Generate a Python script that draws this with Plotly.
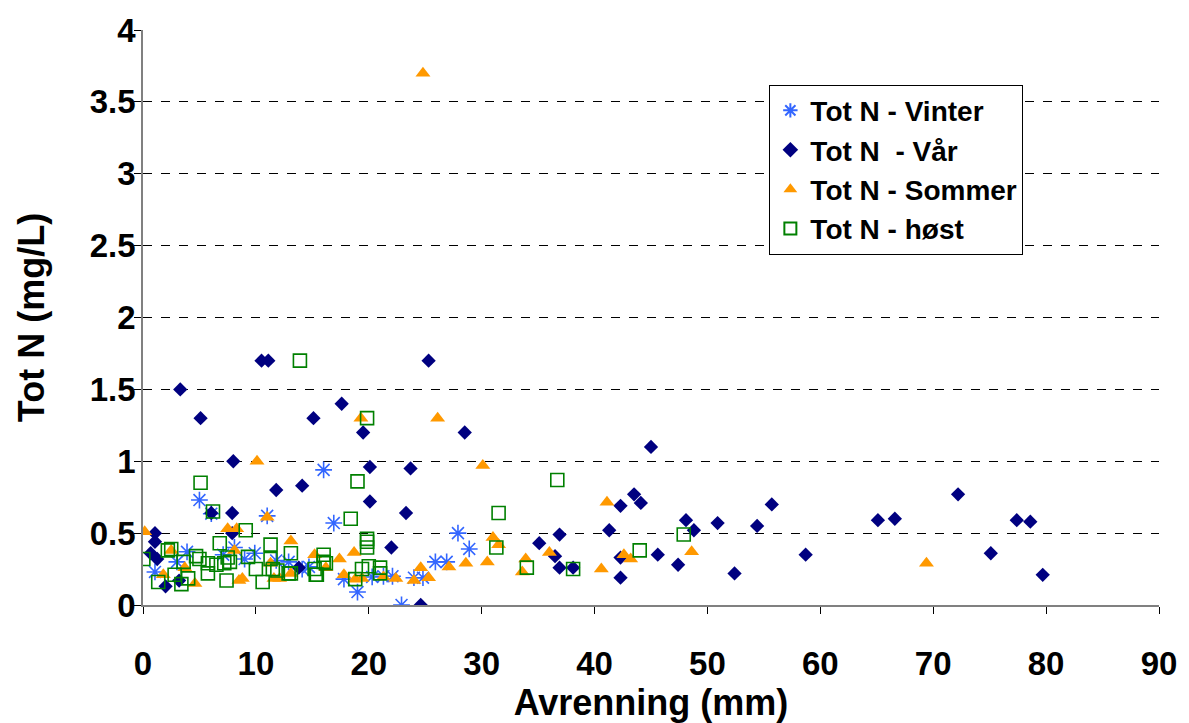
import plotly.graph_objects as go

# Tot N (mg/L) versus avrenning (mm), split by season
vinter_x = [5.0, 6.05, 11.0, 16.0, 3.9, 3.0, 1.06, 8.1, 9.9, 9.0, 11.8, 12.9, 14.1, 7.1, 14.7,
            16.9, 27.9, 28.9, 19.0, 22.9, 25.9, 26.9, 17.8, 20.3, 21.3, 22.1, 24.0, 24.8]
vinter_y = [0.73, 0.635, 0.62, 0.94, 0.37, 0.30, 0.23, 0.40, 0.36, 0.32, 0.31, 0.30, 0.25, 0.35, 0.265,
            0.57, 0.50, 0.39, 0.09, 0.0, 0.30, 0.30, 0.18, 0.195, 0.20, 0.20, 0.19, 0.19]

vaar_x = [3.3, 10.5, 11.1, 25.3, 5.1, 15.1, 17.6, 19.5, 28.5, 8.0, 20.1, 23.7, 11.8, 14.1, 45.0,
          20.1, 23.3, 22.0, 24.6, 6.05, 7.9, 1.06, 1.06, 0.68, 1.26, 2.0, 3.2, 7.9, 13.8,
          43.5, 42.3, 44.1, 35.1, 36.9, 36.5, 36.9, 38.1, 41.3, 42.3, 42.3, 45.6, 47.4, 48.1,
          48.8, 50.9, 52.4, 54.4, 55.7, 58.7, 65.1, 66.6, 72.2, 75.1, 77.4, 78.6, 79.7]
vaar_y = [1.5, 1.7, 1.7, 1.7, 1.3, 1.3, 1.4, 1.2, 1.2, 1.0, 0.96, 0.95, 0.80, 0.83, 1.1,
          0.72, 0.64, 0.40, 0.0, 0.64, 0.64, 0.50, 0.44, 0.36, 0.32, 0.13, 0.17, 0.50, 0.26,
          0.77, 0.69, 0.71, 0.43, 0.49, 0.34, 0.26, 0.26, 0.52, 0.33, 0.19, 0.35, 0.28, 0.59,
          0.52, 0.57, 0.22, 0.55, 0.70, 0.35, 0.59, 0.60, 0.77, 0.36, 0.59, 0.58, 0.21]

sommer_x = [24.8, 10.1, 19.3, 26.1, 30.1, 0.15, 7.5, 8.3, 8.1, 2.5, 1.8, 3.7, 4.6, 8.5, 8.8,
            11.0, 13.1, 11.3, 12.1, 13.1, 15.2, 16.2, 11.6, 17.4, 17.8, 18.7, 18.8, 19.4,
            21.3, 22.4, 24.0, 24.6, 25.3, 27.1, 28.6, 30.5, 31.0, 31.5, 33.9, 33.6, 36.0,
            41.1, 40.6, 42.6, 43.2, 48.6, 69.4]
sommer_y = [3.7, 1.0, 1.3, 1.3, 0.97, 0.51, 0.53, 0.53, 0.38, 0.38, 0.21, 0.26, 0.15, 0.17, 0.185,
            0.61, 0.445, 0.29, 0.185, 0.22, 0.35, 0.26, 0.185, 0.32, 0.21, 0.365, 0.18, 0.185,
            0.195, 0.185, 0.17, 0.26, 0.19, 0.265, 0.29, 0.30, 0.47, 0.42, 0.32, 0.23, 0.365,
            0.715, 0.25, 0.35, 0.32, 0.37, 0.29]

hoest_x = [13.9, 19.85, 5.1, 19.0, 36.7, 6.2, 9.1, 6.8, 11.3, 13.1, 0.03, 2.2, 2.5, 4.7, 3.6,
           5.0, 5.75, 6.5, 7.2, 7.7, 7.5, 10.0, 10.6, 11.5, 11.9, 13.1, 15.2, 15.3, 16.0, 16.0,
           1.35, 3.4, 5.75, 7.4, 2.8, 4.0, 9.3, 11.3, 12.9, 15.4, 16.2, 18.4, 19.85, 19.85,
           19.85, 19.4, 20.0, 21.0, 21.0, 18.8, 31.5, 31.3, 34.0, 38.1, 44.0, 47.9]
hoest_y = [1.7, 1.3, 0.85, 0.86, 0.87, 0.65, 0.52, 0.43, 0.42, 0.36, 0.32, 0.38, 0.39, 0.34, 0.30,
           0.32, 0.29, 0.28, 0.29, 0.30, 0.33, 0.25, 0.16, 0.25, 0.24, 0.22, 0.25, 0.21, 0.35, 0.30,
           0.16, 0.145, 0.22, 0.17, 0.21, 0.185, 0.335, 0.32, 0.22, 0.21, 0.29, 0.60, 0.46, 0.44,
           0.40, 0.25, 0.27, 0.26, 0.22, 0.18, 0.64, 0.40, 0.26, 0.25, 0.38, 0.49]

fig = go.Figure()
fig.add_trace(go.Scatter(
    x=vinter_x, y=vinter_y, mode="markers", name="Tot N - Vinter", legendgroup="a",
    marker=dict(symbol="asterisk-open", size=14, color="#3366FF",
                line=dict(color="#3366FF", width=1.6))))
fig.add_trace(go.Scatter(
    x=vaar_x, y=vaar_y, mode="markers", name="Tot N  - Vår", legendgroup="b",
    marker=dict(symbol="diamond", size=11, color="#000080")))
fig.add_trace(go.Scatter(
    x=sommer_x, y=sommer_y, mode="markers", name="Tot N - Sommer", legendgroup="c",
    marker=dict(symbol="triangle-up", size=13, color="#FF9900")))
fig.add_trace(go.Scatter(
    x=hoest_x, y=hoest_y, mode="markers", name="Tot N - høst", legendgroup="d",
    marker=dict(symbol="square-open", size=13, color="#008000",
                line=dict(color="#008000", width=1.6))))

font_family = "Liberation Sans, Arial, sans-serif"

fig.update_layout(
    width=1189, height=723,
    margin=dict(l=143, r=29, t=27, b=118),
    paper_bgcolor="white", plot_bgcolor="white",
    font=dict(family=font_family, color="black"),
    showlegend=True,
    legend=dict(
        x=0.6165, y=0.905, xanchor="left", yanchor="top",
        bgcolor="white", bordercolor="black", borderwidth=1,
        font=dict(family=font_family, size=28, color="black", weight="bold"),
        traceorder="grouped", tracegroupgap=0,
        itemsizing="constant",
    ),
    xaxis=dict(
        range=[0, 90], dtick=10, tick0=0,
        showgrid=False, zeroline=False,
        showline=True, linecolor="#808080", linewidth=1.5,
        ticks="outside", ticklen=7, tickcolor="black",
        ticklabelstandoff=22,
        tickfont=dict(size=33, family=font_family, weight="bold"),
        title=dict(text="Avrenning (mm)", standoff=2,
                   font=dict(size=36, family=font_family, weight="bold")),
    ),
    yaxis=dict(
        range=[0, 4], dtick=0.5, tick0=0,
        showgrid=True, gridcolor="black", gridwidth=1, griddash="dash",
        zeroline=False,
        showline=True, linecolor="#808080", linewidth=1.5,
        ticks="outside", ticklen=7, tickcolor="black",
        ticklabelstandoff=-8,
        tickfont=dict(size=33, family=font_family, weight="bold"),
        title=dict(text="Tot N (mg/L)", standoff=34,
                   font=dict(size=36, family=font_family, weight="bold")),
    ),
)

fig.write_html("out.html")
